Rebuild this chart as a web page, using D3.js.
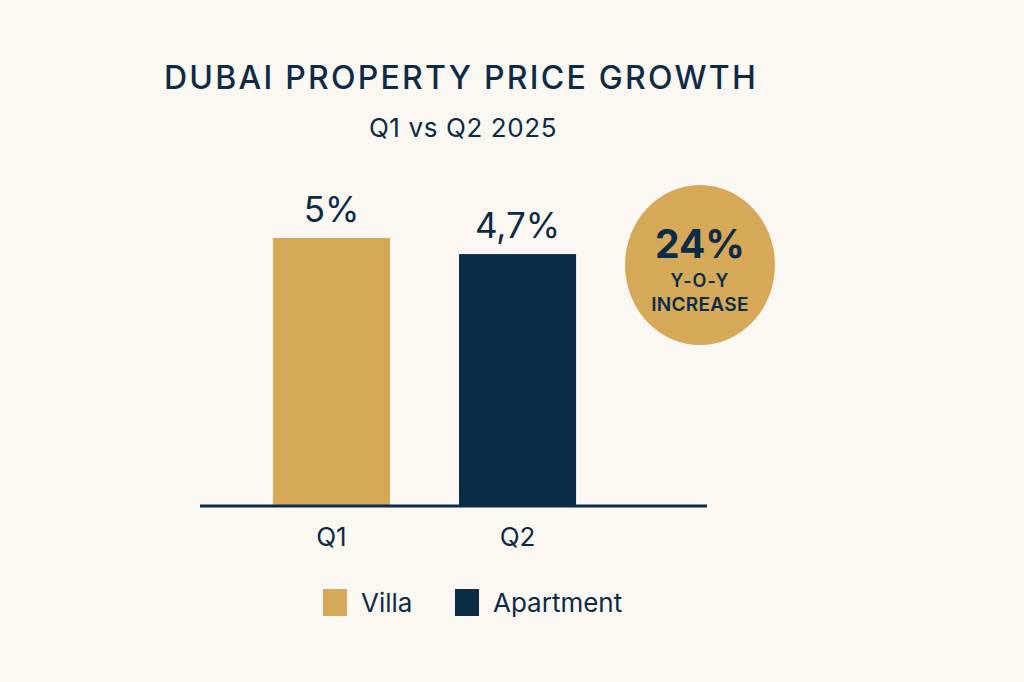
<!DOCTYPE html>
<html>
<head>
<meta charset="utf-8">
<script src="https://cdn.jsdelivr.net/npm/d3@7"></script>
<style>
  html, body { margin: 0; padding: 0; background: #fbf8f4; }
  svg { display: block; font-family: "Inter", "Noto Sans", sans-serif; }
</style>
</head>
<body>
<div id="chart"></div>
<script>
// chart data
const quarters = ["Q1", "Q2"];
const series = ["Villa", "Apartment"];
const growth = [5, 4.7];
const growthLabels = ["5%", "4,7%"];
const yoyValue = "24%";
const yoyLines = ["Y-O-Y", "INCREASE"];

const width = 1024, height = 682;
const gold = "#d5a958", navy = "#0b2b47", ink = "#0e2a45";

const svg = d3.select("#chart").append("svg")
    .attr("width", width)
    .attr("height", height);

svg.append("rect")
    .attr("width", width)
    .attr("height", height)
    .attr("fill", "#fbf8f4");

// title
svg.append("text")
    .attr("x", 164)
    .attr("y", 89)
    .attr("fill", ink)
    .attr("font-size", "32px")
    .attr("font-weight", 500)
    .attr("letter-spacing", "2.25px")
    .text("DUBAI PROPERTY PRICE GROWTH");

svg.append("text")
    .attr("x", 463)
    .attr("y", 137)
    .attr("text-anchor", "middle")
    .attr("fill", ink)
    .attr("font-size", "26px")
    .attr("letter-spacing", "0.6px")
    .text("Q1 vs Q2 2025");

// scales
const x = d3.scaleBand()
    .domain(quarters)
    .range([238.5, 610.5])
    .paddingInner(0.371)
    .paddingOuter(0.185);

const y = d3.scaleLinear()
    .domain([0, 5])
    .range([506, 238]);

const color = d3.scaleOrdinal().domain(series).range([gold, navy]);

// bars
svg.append("g")
    .selectAll("rect")
    .data(quarters)
    .join("rect")
    .attr("x", d => x(d))
    .attr("y", (d, i) => y(growth[i]))
    .attr("width", x.bandwidth())
    .attr("height", (d, i) => y(0) - y(growth[i]))
    .attr("fill", (d, i) => color(series[i]));

// value labels
svg.append("g")
    .selectAll("text")
    .data(quarters)
    .join("text")
    .attr("x", d => x(d) + x.bandwidth() / 2)
    .attr("y", (d, i) => y(growth[i]) - 16)
    .attr("text-anchor", "middle")
    .attr("fill", ink)
    .attr("font-size", "35px")
    .text((d, i) => growthLabels[i]);

// baseline
svg.append("line")
    .attr("x1", 200)
    .attr("x2", 707)
    .attr("y1", y(0))
    .attr("y2", y(0))
    .attr("stroke", navy)
    .attr("stroke-width", 3);

// category axis
const axis = svg.append("g")
    .attr("transform", `translate(0,${y(0)})`)
    .call(d3.axisBottom(x).tickSize(0).tickPadding(22));
axis.select(".domain").remove();
axis.selectAll("text")
    .attr("fill", ink)
    .attr("font-size", "26px")
    .attr("font-family", "Inter, 'Noto Sans', sans-serif");

// legend
const legendX = [323, 455];
const legend = svg.append("g")
    .selectAll("g")
    .data(series)
    .join("g")
    .attr("transform", (d, i) => `translate(${legendX[i]},589)`);

legend.append("rect")
    .attr("width", 24)
    .attr("height", 27)
    .attr("fill", d => color(d));

legend.append("text")
    .attr("x", 38)
    .attr("y", 13.5)
    .attr("dy", "0.35em")
    .attr("fill", ink)
    .attr("font-size", "26px")
    .text(d => d);

// yoy badge
const badge = svg.append("g").attr("transform", "translate(700,265)");
badge.append("ellipse")
    .attr("rx", 75)
    .attr("ry", 80)
    .attr("fill", gold);

badge.append("text")
    .attr("y", -7)
    .attr("text-anchor", "middle")
    .attr("fill", navy)
    .attr("font-size", "39px")
    .attr("font-weight", 700)
    .text(yoyValue);

badge.selectAll(".yoy-line")
    .data(yoyLines)
    .join("text")
    .attr("class", "yoy-line")
    .attr("y", (d, i) => 22 + i * 24)
    .attr("text-anchor", "middle")
    .attr("fill", navy)
    .attr("font-size", (d, i) => i === 0 ? "18px" : "19px")
    .attr("font-weight", 600)
    .attr("letter-spacing", (d, i) => i === 0 ? "1px" : "0.3px")
    .text(d => d);
</script>
</body>
</html>
